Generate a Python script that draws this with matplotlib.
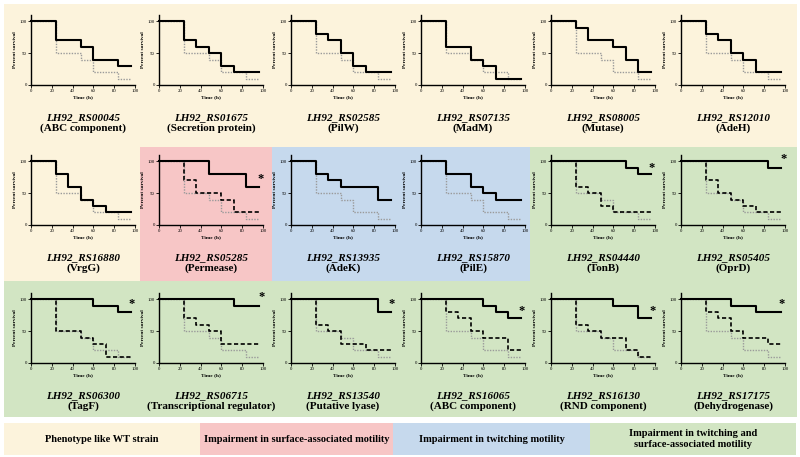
import matplotlib.pyplot as plt
from matplotlib.patches import Rectangle

plt.rcParams["font.family"] = ["Liberation Serif", "DejaVu Serif"]

# sampling times (h) and percent survival at each time
times = [0, 12, 24, 36, 48, 60, 72, 84, 96]
wt_surv = [100, 100, 50, 50, 40, 20, 20, 10, 10]

genes = [
    "LH92_RS00045", "LH92_RS01675", "LH92_RS02585", "LH92_RS07135", "LH92_RS08005", "LH92_RS12010",
    "LH92_RS16880", "LH92_RS05285", "LH92_RS13935", "LH92_RS15870", "LH92_RS04440", "LH92_RS05405",
    "LH92_RS06300", "LH92_RS06715", "LH92_RS13540", "LH92_RS16065", "LH92_RS16130", "LH92_RS17175",
]
products = [
    "(ABC component)", "(Secretion protein)", "(PilW)", "(MadM)", "(Mutase)", "(AdeH)",
    "(VrgG)", "(Permease)", "(AdeK)", "(PilE)", "(TonB)", "(OprD)",
    "(TagF)", "(Transcriptional regulator)", "(Putative lyase)", "(ABC component)",
    "(RND component)", "(Dehydrogenase)",
]
groups = [
    "wt", "wt", "wt", "wt", "wt", "wt",
    "wt", "surface", "twitching", "twitching", "both", "both",
    "both", "both", "both", "both", "both", "both",
]

# solid black curve of each panel
solid_surv = [
    [100, 100, 70, 70, 60, 40, 40, 30, 30],
    [100, 100, 70, 60, 50, 30, 20, 20, 20],
    [100, 100, 80, 70, 50, 30, 20, 20, 20],
    [100, 100, 60, 60, 40, 30, 10, 10, 10],
    [100, 100, 90, 70, 70, 60, 40, 20, 20],
    [100, 100, 80, 70, 50, 40, 20, 20, 20],
    [100, 100, 80, 60, 40, 30, 20, 20, 20],
    [100, 100, 100, 100, 80, 80, 80, 60, 60],
    [100, 100, 80, 70, 60, 60, 60, 40, 40],
    [100, 100, 80, 80, 60, 50, 40, 40, 40],
    [100, 100, 100, 100, 100, 100, 90, 80, 80],
    [100, 100, 100, 100, 100, 100, 100, 90, 90],
    [100, 100, 100, 100, 100, 90, 90, 80, 80],
    [100, 100, 100, 100, 100, 100, 90, 90, 90],
    [100, 100, 100, 100, 100, 100, 100, 80, 80],
    [100, 100, 100, 100, 100, 90, 80, 70, 70],
    [100, 100, 100, 100, 100, 90, 90, 70, 70],
    [100, 100, 100, 100, 90, 90, 80, 80, 80],
]

# dashed black curve (only in panels with a motility defect in surface-associated assay)
dashed_surv = {
    7: [100, 100, 70, 50, 50, 40, 20, 20, 20],
    10: [100, 100, 60, 50, 30, 20, 20, 20, 20],
    11: [100, 100, 70, 50, 40, 30, 20, 20, 20],
    12: [100, 100, 50, 50, 40, 30, 10, 10, 10],
    13: [100, 100, 70, 60, 50, 30, 30, 30, 30],
    14: [100, 100, 60, 50, 30, 30, 20, 20, 20],
    15: [100, 100, 80, 70, 50, 40, 40, 20, 20],
    16: [100, 100, 60, 50, 40, 40, 20, 10, 10],
    17: [100, 100, 80, 70, 50, 40, 40, 30, 30],
}

# significance asterisks (time, percent)
stars = {
    7: (98, 72), 10: (97, 89), 11: (99, 104), 12: (97, 92), 13: (99, 104),
    14: (97, 92), 15: (97, 82), 16: (98, 82), 17: (97, 92),
}

colors = {"wt": "#fcf3dc", "surface": "#f7c6c6", "twitching": "#c6d9ed", "both": "#d2e5c3"}
legend_labels = [
    ("wt", "Phenotype like WT strain"),
    ("surface", "Impairment in surface-associated motility"),
    ("twitching", "Impairment in twitching motility"),
    ("both", "Impairment in twitching and\nsurface-associated motility"),
]

W, H = 800, 457
fig = plt.figure(figsize=(W / 100, H / 100), dpi=100)


def px_rect(x0, y0, x1, y1, color):
    fig.add_artist(Rectangle((x0 / W, 1 - y1 / H), (x1 - x0) / W, (y1 - y0) / H,
                             transform=fig.transFigure, facecolor=color,
                             linewidth=0, antialiased=False, zorder=0))


# cell backgrounds
cell_x = [4, 140, 272, 401, 530, 665, 796]
cell_y = [4, 147, 281, 416]
for i, g in enumerate(groups):
    r, c = divmod(i, 6)
    px_rect(cell_x[c] - 0.5, cell_y[r] - 0.5, cell_x[c + 1] + 0.5, cell_y[r + 1] + 0.5, colors[g])

# legend strip
leg_x = [4, 200, 393, 590, 796]
for k, (g, txt) in enumerate(legend_labels):
    px_rect(leg_x[k], 423, leg_x[k + 1], 455, colors[g])
    fig.text((leg_x[k] + leg_x[k + 1]) / 2 / W, 1 - 439 / H, txt, ha="center", va="center",
             fontsize=7.5, fontweight="bold", linespacing=1.3)

col_left = [31, 159, 291, 421, 551, 681]
row_zero = [85, 225, 363]

for i in range(18):
    r, c = divmod(i, 6)
    ax = fig.add_axes([col_left[c] / W, 1 - row_zero[r] / H, 104 / W, 70 / H])
    ax.patch.set_alpha(0)
    ax.step(times, wt_surv, where="post", color="#9a9a9a", lw=1.0, ls=(0, (1, 1)), clip_on=False)
    if i in dashed_surv:
        ax.step(times, dashed_surv[i], where="post", color="black", lw=1.2,
                ls=(0, (2.5, 1.5)), clip_on=False)
    ax.step(times, solid_surv[i], where="post", color="black", lw=1.5, clip_on=False)
    if i in stars:
        ax.text(stars[i][0], stars[i][1], "*", ha="center", va="center", fontsize=9,
                fontweight="bold")
    ax.set_xlim(0, 100)
    ax.set_ylim(0, 110)
    ax.set_xticks([0, 20, 40, 60, 80, 100])
    ax.set_yticks([0, 50, 100])
    ax.spines[["top", "right"]].set_visible(False)
    for s in ("left", "bottom"):
        ax.spines[s].set_linewidth(1.0)
    ax.tick_params(labelsize=3.5, length=2, width=0.6, pad=1)
    ax.set_xlabel("Time (h)", fontsize=3.8, fontweight="bold", labelpad=1.5)
    ax.set_ylabel("Percent survival", fontsize=3.8, fontweight="bold", labelpad=2)
    ax.text(0.5, -0.46, genes[i], transform=ax.transAxes, ha="center", va="center",
            fontsize=8, fontweight="bold", style="italic")
    ax.text(0.5, -0.61, products[i], transform=ax.transAxes, ha="center", va="center",
            fontsize=8, fontweight="bold")

fig.savefig("out.png", dpi=100, facecolor="white")
